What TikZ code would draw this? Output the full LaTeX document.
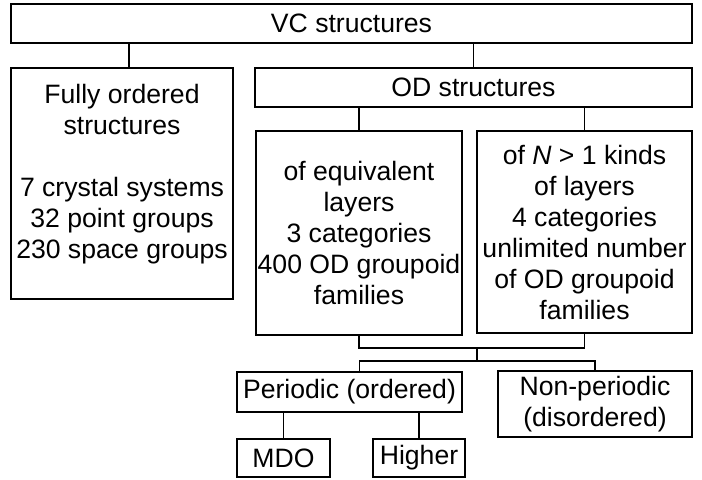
\documentclass[tikz,border=0pt]{standalone}
\usepackage{fontspec}
\setmainfont{Liberation Sans}
\begin{document}
\begin{tikzpicture}[x=0.5pt,y=-0.5pt]
  \tikzset{
    box/.style={draw, line width=0.8pt, inner sep=1pt, align=center,
      font=\fontsize{13.3}{15.5}\selectfont},
    link/.style={line width=0.8pt}
  }
  \useasboundingbox (0,0) rectangle (702,480);

  \node[box, minimum width=340.5pt, minimum height=19.5pt] (vc) at (351.5,23.5) {VC structures};
  \node[box, minimum width=111pt, minimum height=115.5pt, text depth=12pt] (fully) at (122,183.5)
    {Fully ordered\\structures\\[15.5pt]7 crystal systems\\32 point groups\\230 space groups};
  \node[box, minimum width=218.5pt, minimum height=19.5pt] (od) at (473.5,87.5) {OD structures};

  \node[box, minimum width=103pt, minimum height=102pt] (ode) at (359,233)
    {of equivalent\\layers\\3 categories\\400 OD groupoid\\families};
  \node[box, minimum width=107.5pt, minimum height=101pt] (odn) at (584.5,232)
    {of \textit{N} > 1 kinds\\of layers\\4 categories\\unlimited number\\of OD groupoid\\families};

  \node[box, minimum width=112.5pt, minimum height=20pt] (per) at (349.5,392) {Periodic (ordered)};
  \node[box, minimum width=97pt, minimum height=33pt] (nonper) at (595,404) {Non-periodic\\(disordered)};
  \node[box, minimum width=46.5pt, minimum height=19pt] (mdo) at (283.5,458) {MDO};
  \node[box, minimum width=46pt, minimum height=19pt] (higher) at (419,458) {Higher};

  \draw[link] ([xshift=3.5pt]fully.north) -- ([xshift=3.5pt]fully.north |- vc.south);
  \draw[link] (od.north) -- (od.north |- vc.south);
  \draw[link] (ode.north) -- (ode.north |- od.south);
  \draw[link] (odn.north) -- (odn.north |- od.south);

  \coordinate (join) at (477,348);
  \coordinate (split) at (477,361);
  \draw[link] (ode.south) |- (join) -| (odn.south);
  \draw[link] (join) -- (split);
  \draw[link] ([xshift=5pt]per.north) |- (split) -| (nonper.north);

  \draw[link] (mdo.north) -- (mdo.north |- per.south);
  \draw[link] (higher.north) -- (higher.north |- per.south);
\end{tikzpicture}
\end{document}
